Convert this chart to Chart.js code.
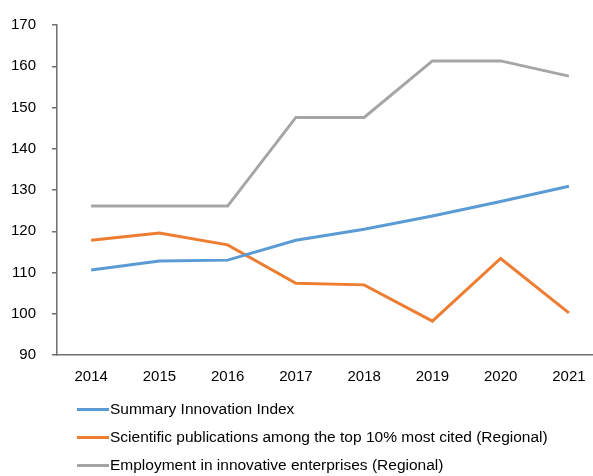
<!DOCTYPE html>
<html>
<head>
<meta charset="utf-8">
<script src="https://cdn.jsdelivr.net/npm/chart.js@4"></script>
<style>
	html, body { margin: 0; padding: 0; background: #fff; }
	body { width: 593px; height: 476px; overflow: hidden; position: relative; font-family: "Liberation Sans", Arial, sans-serif; }
	#wrap { position: absolute; left: 0; top: 0; width: 603px; height: 400px; }
	#legend { position: absolute; left: 77px; top: 395px; font-size: 15.5px; color: #000; }
	#legend .item { height: 28px; display: flex; align-items: center; }
	#legend .swatch { width: 32px; height: 3px; margin-right: 1px; }
</style>
</head>
<body>
<div id="wrap"><canvas id="lineChart"></canvas></div>
<div id="legend"></div>
<script>
// chart values
var years = ['2014', '2015', '2016', '2017', '2018', '2019', '2020', '2021'];
var summaryIndex = [110.6, 112.8, 113.0, 117.8, 120.5, 123.7, 127.2, 130.9];
var topCited = [117.8, 119.6, 116.7, 107.4, 107.0, 98.2, 113.4, 100.2];
var employment = [126.1, 126.1, 126.1, 147.6, 147.6, 161.3, 161.3, 157.6];
var seriesNames = [
	'Summary Innovation Index',
	'Scientific publications among the top 10% most cited (Regional)',
	'Employment in innovative enterprises (Regional)'
];
var seriesColors = ['#5b9bd5', '#ed7d31', '#a5a5a5'];

var axisColor = '#6f6f6f';
var tickFont = { family: '"Liberation Sans", Arial, sans-serif', size: 15 };

var ctx = document.getElementById('lineChart').getContext('2d');
var lineChart = new Chart(ctx, {
	type: 'line',
	data: {
		labels: years,
		datasets: [summaryIndex, topCited, employment].map(function (vals, i) {
			return {
				label: seriesNames[i],
				data: vals,
				borderColor: seriesColors[i],
				backgroundColor: seriesColors[i],
				borderWidth: 3,
				pointRadius: 0,
				tension: 0,
				fill: false
			};
		})
	},
	options: {
		responsive: true,
		maintainAspectRatio: false,
		animation: false,
		layout: {
			padding: { top: 25, right: 0, bottom: 0, left: 0 }
		},
		plugins: {
			legend: { display: false },
			tooltip: { enabled: false }
		},
		scales: {
			x: {
				offset: true,
				grid: { display: false, drawTicks: false },
				border: { display: true, color: axisColor, width: 1.5 },
				ticks: { color: '#000', font: tickFont, padding: 13, maxRotation: 0 },
				afterFit: function (scale) { scale.height = 45; }
			},
			y: {
				min: 90,
				max: 170,
				grid: { drawOnChartArea: false, drawTicks: true, tickLength: 5, color: axisColor, lineWidth: 1.5 },
				border: { display: true, color: axisColor, width: 1.5 },
				ticks: { stepSize: 10, color: '#000', font: tickFont, padding: 16 },
				afterFit: function (scale) { scale.width = 57; }
			}
		}
	}
});

// html legend, stacked like the original
var legendBox = document.getElementById('legend');
seriesNames.forEach(function (name, i) {
	var row = document.createElement('div');
	row.className = 'item';
	var sw = document.createElement('span');
	sw.className = 'swatch';
	sw.style.background = seriesColors[i];
	var txt = document.createElement('span');
	txt.textContent = name;
	row.appendChild(sw);
	row.appendChild(txt);
	legendBox.appendChild(row);
});
</script>
</body>
</html>
